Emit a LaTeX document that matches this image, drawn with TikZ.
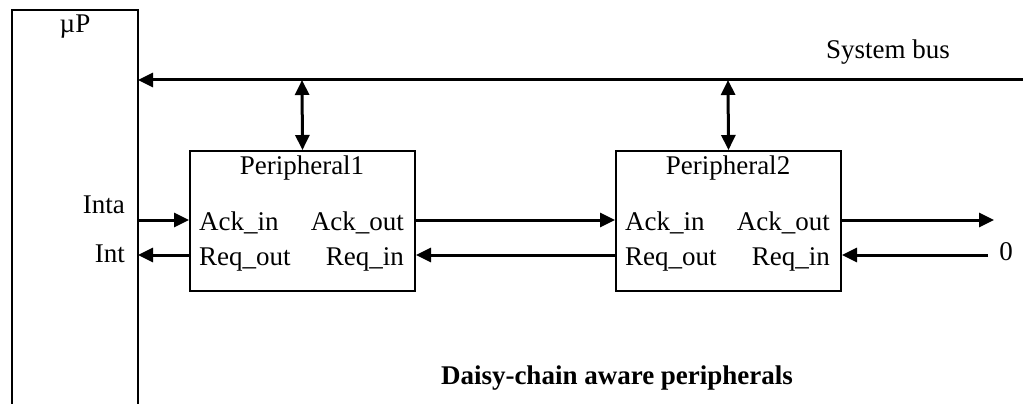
\documentclass[tikz,border=0pt]{standalone}
\usepackage{fontspec}
\setmainfont{Liberation Serif}
\usetikzlibrary{arrows.meta}
\begin{document}
\begin{tikzpicture}[x=1pt,y=-1pt,
  every node/.style={font=\fontsize{27}{32}\selectfont, inner sep=0pt},
  boxline/.style={line width=2pt},
  sig/.style={line width=3pt, -{Triangle[length=15pt,width=14pt]}},
  bisig/.style={line width=3pt, {Triangle[length=15pt,width=14pt]}-{Triangle[length=15pt,width=14pt]}},
  lbl/.style={anchor=base}]
\useasboundingbox (0,0) rectangle (1023,404);
% uP box (open at bottom)
\draw[boxline] (12,406) -- (12,10) -- (138,10) -- (138,406);
\coordinate (upR) at (138,80);
\coordinate (upInta) at (138,220);
\coordinate (upInt) at (138,255);
\node (up) at (75,27) {µP};
\node (inta) [anchor=base east] at (125,213) {Inta};
\node (int) [anchor=base east] at (125,262) {Int};
% system bus
\coordinate (busR) at (1023,80);
\draw[sig] (busR) -- (upR);
\node (sysbus) at (888,52) {System bus};
% peripherals
\node[draw, boxline, minimum width=225pt, minimum height=140pt] (p1) at (302.5,221) {};
\node[draw, boxline, minimum width=225pt, minimum height=140pt] (p2) at (728.5,221) {};
\node (p1t) at (302,168) {Peripheral1};
\node (p2t) at (728,168) {Peripheral2};
\node (p1ai) [anchor=base west] at (199,230) {Ack\_in};
\node (p1ao) [anchor=base east] at (404,230) {Ack\_out};
\node (p1ro) [anchor=base west] at (199,265) {Req\_out};
\node (p1ri) [anchor=base east] at (404,265) {Req\_in};
\node (p2ai) [anchor=base west] at (625,230) {Ack\_in};
\node (p2ao) [anchor=base east] at (830,230) {Ack\_out};
\node (p2ro) [anchor=base west] at (625,265) {Req\_out};
\node (p2ri) [anchor=base east] at (830,265) {Req\_in};
% bus taps
\coordinate (b1) at (302,80);
\coordinate (b2) at (728,80);
\draw[bisig] (b1) -- (p1.north);
\draw[bisig] (b2) -- (p2.north);
% chain signals
\draw[sig] (upInta) -- (p1.west |- upInta);
\draw[sig] (p1.west |- upInt) -- (upInt);
\draw[sig] (p1.east |- upInta) -- (p2.west |- upInta);
\draw[sig] (p2.west |- upInt) -- (p1.east |- upInt);
\coordinate (outA) at (994,220);
\coordinate (inR) at (988,255);
\draw[sig] (p2.east |- outA) -- (outA);
\draw[sig] (inR) -- (p2.east |- inR);
\node (zero) at (1006,252) {0};
\node[font=\fontsize{27}{32}\selectfont\bfseries] (title) at (617,378) {Daisy-chain aware peripherals};
\end{tikzpicture}
\end{document}
